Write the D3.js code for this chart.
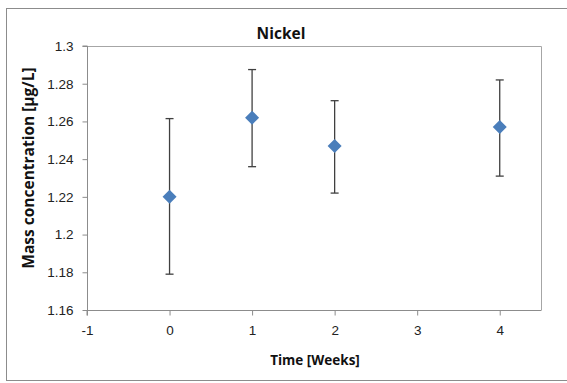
<!DOCTYPE html>
<html>
<head>
<meta charset="utf-8">
<script src="https://cdn.jsdelivr.net/npm/d3@7"></script>
<style>
  html, body { margin: 0; padding: 0; background: #fff; }
  svg { display: block; font-family: "Open Sans", "Liberation Sans", sans-serif; }
</style>
</head>
<body>
<svg id="chart" width="567" height="383"></svg>
<script>
// Nickel mass concentration per week, with error bars
const weeks = [0, 1, 2, 4];
const concentration = [1.220, 1.262, 1.247, 1.257];
const errLow = [1.179, 1.236, 1.222, 1.231];
const errHigh = [1.2615, 1.2875, 1.271, 1.282];
const xTicks = [-1, 0, 1, 2, 3, 4];
const yTicks = [1.16, 1.18, 1.2, 1.22, 1.24, 1.26, 1.28, 1.3];

const svg = d3.select("#chart");
const plot = { left: 87, right: 541, top: 46, bottom: 310 };

// outer chart frame
svg.append("rect")
  .attr("x", 6.5).attr("y", 8.5).attr("width", 600).attr("height", 372)
  .attr("fill", "#fff").attr("stroke", "#8c8c8c").attr("stroke-width", 1);

const x = d3.scaleLinear().domain([-1, 4.5]).range([plot.left, plot.right]);
const y = d3.scaleLinear().domain([1.16, 1.3]).range([plot.bottom, plot.top]);

// plot area border (top and right)
svg.append("path")
  .attr("d", `M${plot.left},${plot.top + 0.5}H${plot.right + 0.5}V${plot.bottom}`)
  .attr("fill", "none").attr("stroke", "#a6a6a6").attr("stroke-width", 1);

const yAxis = svg.append("g")
  .attr("transform", `translate(${plot.left + 0.5},0)`)
  .call(d3.axisLeft(y).tickValues(yTicks).tickSize(5).tickPadding(9)
    .tickFormat(d => String(+d.toFixed(2))));
const xAxis = svg.append("g")
  .attr("transform", `translate(0,${plot.bottom + 0.5})`)
  .call(d3.axisBottom(x).tickValues(xTicks).tickSize(5).tickPadding(10)
    .tickFormat(d => d));

[yAxis, xAxis].forEach(g => {
  g.select(".domain").attr("stroke", "#8c8c8c");
  g.selectAll(".tick line").attr("stroke", "#8c8c8c");
  g.selectAll(".tick text").attr("fill", "#222").attr("font-size", 13.5);
});
yAxis.select(".domain").attr("d", `M-5,${y(1.3)}H0V${y(1.16)}`);
xAxis.select(".domain").attr("d", `M${plot.left},5V0H${plot.right + 0.5}`);

// error bars
const eg = svg.append("g").attr("stroke", "#404040").attr("stroke-width", 1.3);
weeks.forEach((w, i) => {
  const cx = x(w);
  eg.append("line").attr("x1", cx).attr("x2", cx).attr("y1", y(errLow[i])).attr("y2", y(errHigh[i]));
  eg.append("line").attr("x1", cx - 4).attr("x2", cx + 4).attr("y1", y(errLow[i])).attr("y2", y(errLow[i]));
  eg.append("line").attr("x1", cx - 4).attr("x2", cx + 4).attr("y1", y(errHigh[i])).attr("y2", y(errHigh[i]));
});

// diamond markers
svg.append("g").selectAll("path").data(weeks).join("path")
  .attr("transform", (w, i) => `translate(${x(w)},${y(concentration[i])})`)
  .attr("d", "M0,-7L7,0L0,7L-7,0Z")
  .attr("fill", "#4a7ebb");

// titles
svg.append("text").attr("x", 281).attr("y", 39).attr("text-anchor", "middle")
  .attr("font-size", 15.5).attr("font-weight", "bold").attr("fill", "#111").text("Nickel");
svg.append("text").attr("x", 315).attr("y", 365).attr("text-anchor", "middle")
  .attr("font-size", 13.5).attr("font-weight", "bold").attr("fill", "#111").text("Time [Weeks]");
svg.append("text")
  .attr("transform", `translate(34,168) rotate(-90)`)
  .attr("text-anchor", "middle")
  .attr("font-size", 15.5).attr("font-weight", "bold").attr("fill", "#111").text("Mass concentration [µg/L]");
</script>
</body>
</html>
